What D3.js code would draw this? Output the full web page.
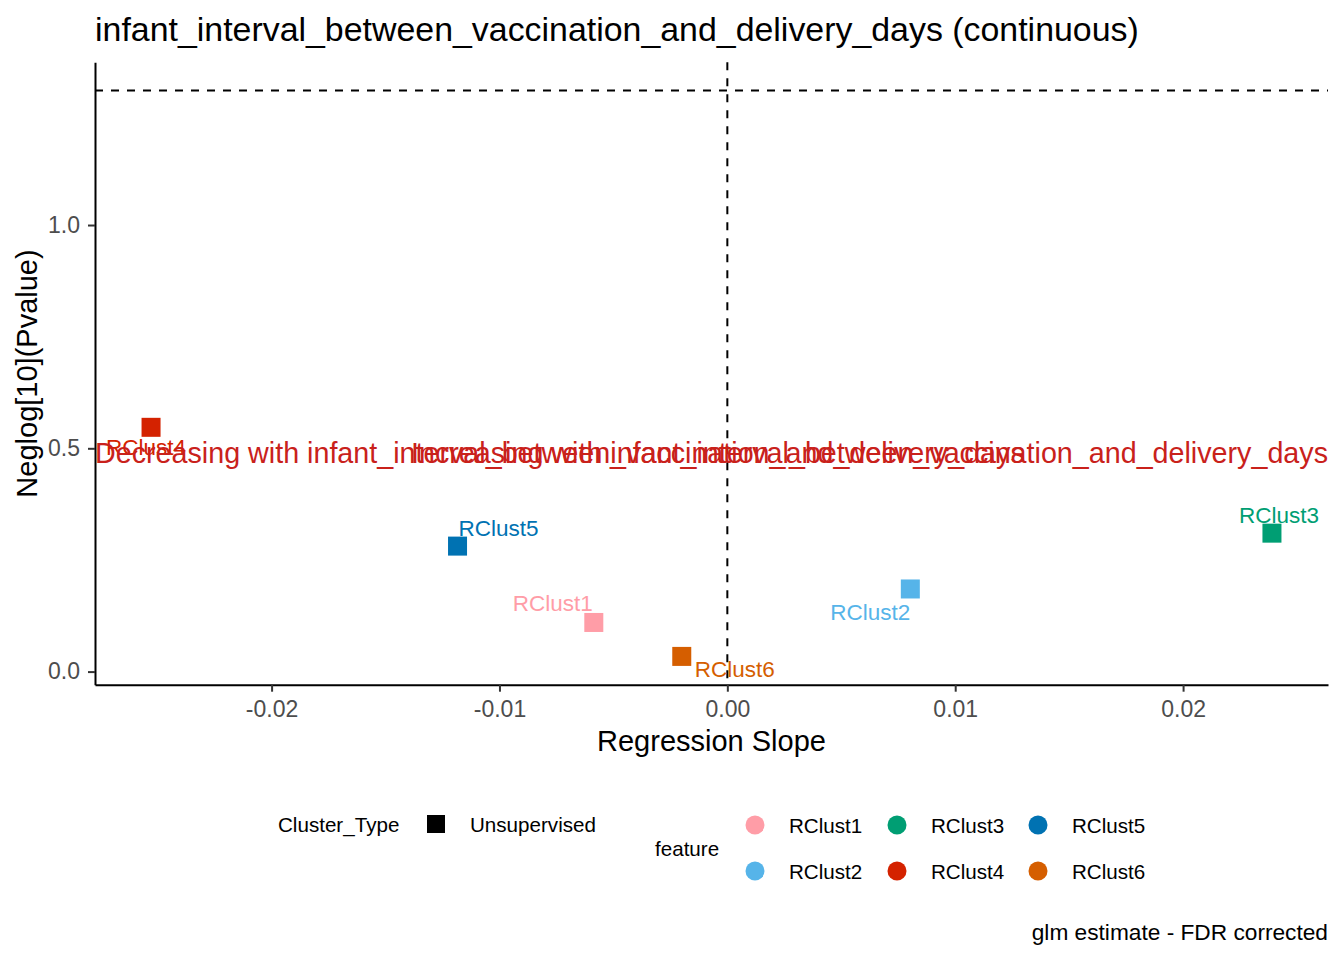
<!DOCTYPE html>
<html>
<head>
<meta charset="utf-8">
<script src="https://cdn.jsdelivr.net/npm/d3@7"></script>
<style>
body { margin: 0; background: #fff; }
text { font-family: "Liberation Sans", Arial, sans-serif; }
</style>
</head>
<body>
<script>
// data
const features = ['RClust1', 'RClust2', 'RClust3', 'RClust4', 'RClust5', 'RClust6']
const slopes = [-0.00586, 0.00803, 0.0239, -0.02529, -0.01184, -0.0020]
const negLogP = [0.110, 0.185, 0.310, 0.547, 0.281, 0.034]
const featureColors = ['#FF9DA7', '#56B4E9', '#009E73', '#D42200', '#0072B2', '#D55E00']
const xTicks = [-0.02, -0.01, 0, 0.01, 0.02]
const yTicks = [0, 0.5, 1]
const pCut = 0.05
const annotationY = 0.5

const title = 'infant_interval_between_vaccination_and_delivery_days (continuous)'
const variable = 'infant_interval_between_vaccination_and_delivery_days'
const caption = 'glm estimate - FDR corrected'

// repel offsets of the point labels (pixels from the point)
const labelShift = [[-41, -11], [-40, 31], [7, -10], [-5, 28], [41, -10], [53, 21]]

const W = 1344, H = 960
const margin = { top: 62.3, right: 16, bottom: 275.3, left: 95 },
    width = W - margin.left - margin.right,
    height = H - margin.top - margin.bottom

const data = features.map((f, i) => ({ f, x: slopes[i], y: negLogP[i], c: featureColors[i], s: labelShift[i] }))

// ggplot style 5% expansion
const expand = ([a, b]) => [a - (b - a) * 0.05, b + (b - a) * 0.05]
const hline = -Math.log10(pCut)
const x = d3.scaleLinear().domain(expand(d3.extent(slopes.concat([0])))).range([0, width])
const y = d3.scaleLinear().domain(expand(d3.extent(negLogP.concat([hline])))).range([height, 0])

const root = d3.select('body').append('svg')
    .attr('width', W)
    .attr('height', H)

root.append('text')
    .attr('x', margin.left)
    .attr('y', 41)
    .attr('font-size', '33.9px')
    .attr('fill', '#000')
    .text(title)

const svg = root.append('g')
    .attr('transform', `translate(${margin.left},${margin.top})`)

// axes
const yAxis = svg.append('g')
    .call(d3.axisLeft(y).tickValues(yTicks).tickFormat(d => d.toFixed(1)).tickSize(7).tickSizeOuter(0).tickPadding(8))
const xAxis = svg.append('g')
    .attr('transform', `translate(0,${height})`)
    .call(d3.axisBottom(x).tickValues(xTicks).tickFormat(d => d.toFixed(2)).tickSize(7).tickSizeOuter(0).tickPadding(9))

;[xAxis, yAxis].forEach(a => {
    a.select('.domain').attr('stroke', '#000').attr('stroke-width', 2)
    a.selectAll('.tick line').attr('stroke', '#333').attr('stroke-width', 2)
    a.selectAll('.tick text')
        .attr('fill', '#4D4D4D')
        .attr('font-size', '23px')
        .attr('font-family', '"Liberation Sans", Arial, sans-serif')
})

// reference lines
svg.append('line')
    .attr('x1', x(0)).attr('x2', x(0))
    .attr('y1', 0).attr('y2', height)
    .attr('stroke', '#000').attr('stroke-width', 2)
    .attr('stroke-dasharray', '8 8')
svg.append('line')
    .attr('x1', 0).attr('x2', width)
    .attr('y1', y(hline)).attr('y2', y(hline))
    .attr('stroke', '#000').attr('stroke-width', 2)
    .attr('stroke-dasharray', '8 8')

// points
const side = 19
svg.selectAll('.pt').data(data)
    .enter().append('rect')
    .attr('class', 'pt')
    .attr('x', d => x(d.x) - side / 2)
    .attr('y', d => y(d.y) - side / 2)
    .attr('width', side)
    .attr('height', side)
    .attr('fill', d => d.c)

// point labels
svg.selectAll('.lab').data(data)
    .enter().append('text')
    .attr('class', 'lab')
    .attr('text-anchor', 'middle')
    .attr('x', d => x(d.x) + d.s[0])
    .attr('y', d => y(d.y) + d.s[1])
    .attr('font-size', '22.5px')
    .attr('fill', d => d.c)
    .text(d => d.f)

// direction annotations (they overlap in the original too)
const annColor = '#C9211B'
svg.append('text')
    .attr('x', 0)
    .attr('y', y(annotationY) + 14.5)
    .attr('font-size', '28.7px')
    .attr('fill', annColor)
    .text('Decreasing with ' + variable)
svg.append('text')
    .attr('x', width)
    .attr('y', y(annotationY) + 14.5)
    .attr('text-anchor', 'end')
    .attr('font-size', '28.7px')
    .attr('fill', annColor)
    .text('Increasing with ' + variable)

// axis titles
svg.append('text')
    .attr('text-anchor', 'middle')
    .attr('x', width / 2)
    .attr('y', 751 - margin.top)
    .attr('font-size', '29px')
    .text('Regression Slope')
root.append('text')
    .attr('text-anchor', 'middle')
    .attr('transform', `translate(37,${margin.top + height / 2}) rotate(-90)`)
    .attr('font-size', '29px')
    .text('Neglog[10](Pvalue)')

// legends
const leg = root.append('g').attr('font-size', '20.6px')
leg.append('text').attr('x', 278).attr('y', 832).text('Cluster_Type')
leg.append('rect').attr('x', 427).attr('y', 815).attr('width', 18).attr('height', 18).attr('fill', '#000')
leg.append('text').attr('x', 470).attr('y', 832).text('Unsupervised')

leg.append('text').attr('x', 655).attr('y', 856).text('feature')
const colX = [755, 897, 1038], rowY = [825, 871]
data.forEach((d, i) => {
    const cx = colX[Math.floor(i / 2)], cy = rowY[i % 2]
    leg.append('circle').attr('cx', cx).attr('cy', cy).attr('r', 9.5).attr('fill', d.c)
    leg.append('text').attr('x', cx + 34).attr('y', cy + 8).text(d.f)
})

// caption
root.append('text')
    .attr('x', W - margin.right)
    .attr('y', 940)
    .attr('text-anchor', 'end')
    .attr('font-size', '22.7px')
    .text(caption)
</script>
</body>
</html>
